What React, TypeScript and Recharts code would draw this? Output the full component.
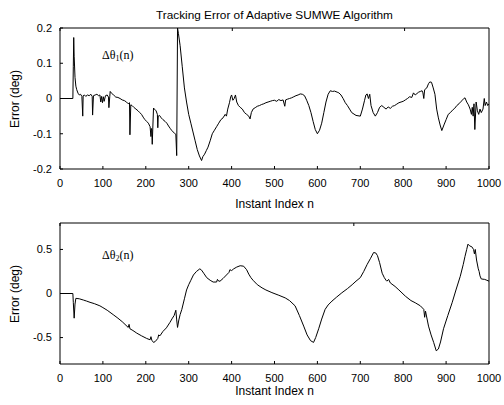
import { LineChart, Line, XAxis, YAxis } from "recharts";

// tracking error of joint 1 (deg) vs instant index
const index1 = [
  0, 30, 31, 32, 33, 35, 37, 39, 42, 45, 48, 51, 53, 54, 57, 60, 64, 68, 72, 75, 76, 78, 82, 86, 90, 93,
  95, 97, 99, 101, 103, 106, 110, 113, 114, 116, 117, 120, 125, 130, 135, 140, 145, 150, 155, 159, 162,
  163, 165, 168, 172, 177, 182, 186, 190, 195, 198, 202, 206, 210, 212, 213, 214, 215, 216, 218, 220, 224,
  227, 228, 229, 232, 236, 240, 245, 249, 253, 257, 260, 264, 268, 270, 272, 274, 276, 280, 285, 290, 295,
  300, 305, 310, 315, 320, 325, 330, 333, 337, 341, 345, 350, 355, 360, 365, 370, 375, 380, 385, 388, 391,
  395, 398, 400, 403, 406, 409, 412, 416, 420, 425, 430, 435, 440, 443, 446, 450, 455, 460, 465, 470, 475,
  480, 485, 490, 495, 500, 505, 510, 515, 520, 524, 526, 530, 535, 540, 545, 550, 555, 560, 565, 570, 575,
  580, 585, 590, 595, 600, 605, 610, 615, 620, 625, 630, 635, 640, 646, 650, 655, 660, 665, 670, 675, 680,
  690, 700, 705, 710, 713, 716, 719, 722, 725, 730, 735, 740, 745, 750, 755, 760, 765, 770, 775, 780, 785,
  790, 795, 800, 805, 810, 815, 820, 824, 828, 832, 836, 840, 844, 846, 848, 850, 855, 859, 862, 866, 870,
  874, 878, 882, 886, 890, 895, 900, 905, 910, 915, 920, 925, 930, 935, 940, 944, 948, 952, 956, 959, 961,
  963, 965, 967, 970, 973, 976, 979, 982, 986, 989, 991, 994, 997, 1000,
];
const error1 = [
  0, 0, 0.09, 0.173, 0.12, 0.06, 0.035, 0.025, 0.015, 0.01, 0.012, 0.006, -0.05, 0.008, 0.01, 0.006, 0.01,
  0.008, 0.012, 0.006, -0.047, 0.008, 0.01, 0.012, 0.008, 0.01, -0.01, 0.006, -0.012, 0.005, -0.008,
  0.008, 0.01, 0.004, -0.026, 0.005, 0.02, 0.015, 0.01, 0.004, 0.003, 0.0, -0.004, -0.006, -0.01, -0.015,
  -0.012, -0.103, -0.018, -0.02, -0.025, -0.03, -0.035, -0.04, -0.045, -0.055, -0.06, -0.065, -0.07,
  -0.08, -0.108, -0.085, -0.09, -0.13, -0.095, -0.027, -0.03, -0.035, -0.045, -0.083, -0.05, -0.048,
  -0.055, -0.06, -0.065, -0.07, -0.078, -0.085, -0.09, -0.095, -0.1, -0.102, -0.162, 0.2, 0.185, 0.15,
  0.09, 0.03, -0.01, -0.045, -0.07, -0.095, -0.12, -0.145, -0.163, -0.176, -0.165, -0.158, -0.148,
  -0.138, -0.12, -0.1, -0.09, -0.08, -0.07, -0.06, -0.055, -0.045, -0.05, -0.03, -0.012, 0.005, 0.01,
  -0.005, 0.0, 0.01, -0.01, -0.02, -0.025, -0.03, -0.04, -0.045, -0.05, -0.058, -0.04, -0.03, -0.026,
  -0.022, -0.02, -0.017, -0.015, -0.012, -0.01, -0.008, -0.006, -0.005, -0.008, -0.003, -0.006, -0.004,
  -0.022, -0.004, -0.002, 0.0, 0.002, 0.005, 0.008, 0.01, 0.013, 0.012, 0.008, -0.005, -0.02, -0.04,
  -0.065, -0.088, -0.1, -0.09, -0.07, -0.04, -0.01, 0.012, 0.022, 0.02, 0.021, 0.018, 0.016, 0.01, 0.0,
  -0.012, -0.02, -0.03, -0.04, -0.048, -0.05, -0.03, -0.005, 0.01, 0.013, 0.0, 0.012, -0.02,
  -0.04, -0.05, -0.04, -0.025, -0.02, -0.025, -0.03, -0.024, -0.028, -0.022, -0.02, -0.016, -0.012,
  -0.01, -0.008, -0.004, 0.0, 0.005, 0.003, 0.016, 0.01, 0.014, 0.018, 0.02, 0.022, 0.016, 0.0, 0.025,
  0.03, 0.042, 0.047, 0.046, 0.03, 0.012, -0.03, -0.055, -0.075, -0.091, -0.075, -0.06, -0.045, -0.04,
  -0.033, -0.028, -0.02, -0.015, -0.008, -0.002, 0.002, -0.01, -0.018, -0.03, -0.045, -0.025, -0.05,
  -0.015, -0.088, -0.01, -0.035, -0.045, -0.03, -0.04, -0.03, 0.0, -0.02, -0.01, -0.02, -0.015,
];

// tracking error of joint 2 (deg) vs instant index
const index2 = [
  0, 30, 31, 33, 35, 37, 45, 55, 62, 70, 80, 93, 100, 110, 124, 135, 145, 159, 161, 163, 170, 179, 190,
  202, 210, 212, 214, 218, 222, 228, 230, 233, 240, 248, 256, 262, 266, 270, 272, 274, 277, 280, 284, 290,
  295, 300, 305, 311, 318, 326, 330, 335, 342, 350, 357, 365, 367, 370, 373, 380, 388, 394, 396, 400, 405,
  412, 420, 428, 435, 440, 445, 450, 460, 471, 480, 494, 510, 525, 535, 548, 558, 568, 576, 584, 591, 596,
  603, 610, 618, 625, 634, 645, 657, 670, 681, 690, 700, 708, 716, 724, 731, 736, 740, 745, 751, 756, 760,
  762, 766, 770, 781, 790, 805, 818, 828, 840, 848, 850, 852, 859, 865, 871, 877, 882, 887, 894, 904, 914,
  923, 933, 940, 944, 948, 951, 955, 960, 964, 966, 968, 971, 975, 977, 979, 982, 990, 995, 1000,
];
const error2 = [
  0, 0, -0.1, -0.28, -0.12, -0.055, -0.06, -0.075, -0.086, -0.1, -0.115, -0.14, -0.16, -0.19, -0.24,
  -0.28, -0.32, -0.385, -0.35, -0.4, -0.42, -0.45, -0.48, -0.51, -0.525, -0.49, -0.53, -0.555, -0.545,
  -0.51, -0.47, -0.48, -0.43, -0.39, -0.33, -0.28, -0.25, -0.19, -0.3, -0.385, -0.3, -0.24, -0.18, -0.06,
  0.04, 0.1, 0.15, 0.21, 0.25, 0.28, 0.265, 0.23, 0.18, 0.15, 0.13, 0.13, 0.16, 0.14, 0.14, 0.17, 0.21,
  0.24, 0.27, 0.26, 0.28, 0.3, 0.315, 0.31, 0.27, 0.22, 0.18, 0.15, 0.1, 0.064, 0.04, 0.01, -0.02, -0.05,
  -0.08, -0.14, -0.25, -0.37, -0.47, -0.535, -0.555, -0.5, -0.4, -0.29, -0.18, -0.13, -0.086, -0.04,
  0.008, 0.055, 0.1, 0.14, 0.18, 0.25, 0.33, 0.4, 0.465, 0.46, 0.43, 0.35, 0.23, 0.18, 0.15, 0.14, 0.16,
  0.12, 0.08, 0.04, -0.03, -0.08, -0.105, -0.14, -0.18, -0.27, -0.2, -0.37, -0.47, -0.555, -0.65, -0.63,
  -0.55, -0.4, -0.25, -0.105, 0.04, 0.195, 0.33, 0.42, 0.5, 0.56, 0.54, 0.53, 0.5, 0.45, 0.5, 0.38, 0.28,
  0.25, 0.2, 0.165, 0.16, 0.15, 0.14,
];

const xTicks = [0, 100, 200, 300, 400, 500, 600, 700, 800, 900, 1000];
const yTicks1 = [-0.2, -0.1, 0, 0.1, 0.2];
const yTicks2 = [-0.5, 0, 0.5];

const sans = "'Liberation Sans', Arial, sans-serif";
const serif = "'Liberation Serif', 'DejaVu Serif', serif";
const tickStyle = { fontSize: 11, fill: "#000", fontFamily: sans };

const data1 = index1.map((n, i) => ({ n, err: error1[i] }));
const data2 = index2.map((n, i) => ({ n, err: error2[i] }));

type PlotProps = {
  data: { n: number; err: number }[];
  height: number;
  marginTop: number;
  yDomain: [number, number];
  yTicks: number[];
};

function ErrorPlot({ data, height, marginTop, yDomain, yTicks }: PlotProps) {
  return (
    <LineChart
      width={504}
      height={height}
      data={data}
      margin={{ top: marginTop, right: 14, left: 0, bottom: 11 }}
    >
      <XAxis
        dataKey="n"
        type="number"
        domain={[0, 1000]}
        ticks={xTicks}
        interval={0}
        height={30}
        tickSize={-3}
        tickMargin={13}
        tick={tickStyle}
        stroke="#000"
        allowDataOverflow
      />
      <XAxis
        xAxisId="top"
        orientation="top"
        type="number"
        domain={[0, 1000]}
        ticks={xTicks}
        interval={0}
        height={1}
        tickSize={-3}
        tickFormatter={() => ""}
        stroke="#000"
      />
      <YAxis
        type="number"
        domain={yDomain}
        ticks={yTicks}
        interval={0}
        width={60}
        tickSize={-3}
        tickMargin={11}
        tick={tickStyle}
        stroke="#000"
        allowDataOverflow
      />
      <YAxis
        yAxisId="right"
        orientation="right"
        type="number"
        domain={yDomain}
        ticks={yTicks}
        interval={0}
        width={1}
        tickSize={-3}
        tickFormatter={() => ""}
        stroke="#000"
      />
      <Line
        type="linear"
        dataKey="err"
        stroke="#000"
        strokeWidth={1}
        dot={false}
        isAnimationActive={false}
      />
    </LineChart>
  );
}

const textBase = {
  position: "absolute" as const,
  fontFamily: sans,
  fontSize: 12,
  lineHeight: "14px",
  color: "#000",
  whiteSpace: "nowrap" as const,
};

export default function App() {
  return (
    <div style={{ position: "absolute", left: 0, top: 0, width: 504, height: 405, background: "#fff" }}>
      <div style={{ position: "absolute", left: 0, top: 0 }}>
        <ErrorPlot data={data1} height={210} marginTop={27} yDomain={[-0.2, 0.2]} yTicks={yTicks1} />
      </div>
      <div style={{ position: "absolute", left: 0, top: 210 }}>
        <ErrorPlot data={data2} height={195} marginTop={12} yDomain={[-0.8, 0.8]} yTicks={yTicks2} />
      </div>

      <div style={{ ...textBase, fontSize: 11.8, left: 60, width: 429, top: 8, textAlign: "center" }}>
        Tracking Error of Adaptive SUMWE Algorithm
      </div>
      <div style={{ ...textBase, left: 60, width: 429, top: 197, textAlign: "center" }}>Instant Index n</div>
      <div style={{ ...textBase, left: 60, width: 429, top: 384, textAlign: "center" }}>Instant Index n</div>
      <div
        style={{ ...textBase, left: -35, top: 91.5, width: 100, textAlign: "center", transform: "rotate(-90deg)" }}
      >
        Error (deg)
      </div>
      <div
        style={{ ...textBase, left: -35, top: 286.5, width: 100, textAlign: "center", transform: "rotate(-90deg)" }}
      >
        Error (deg)
      </div>

      <div style={{ ...textBase, fontFamily: serif, fontSize: 12, left: 102, top: 48 }}>
        Δθ<sub style={{ fontSize: 8, verticalAlign: "-2px" }}>1</sub>(n)
      </div>
      <div style={{ ...textBase, fontFamily: serif, fontSize: 12, left: 102, top: 248 }}>
        Δθ<sub style={{ fontSize: 8, verticalAlign: "-2px" }}>2</sub>(n)
      </div>
    </div>
  );
}
